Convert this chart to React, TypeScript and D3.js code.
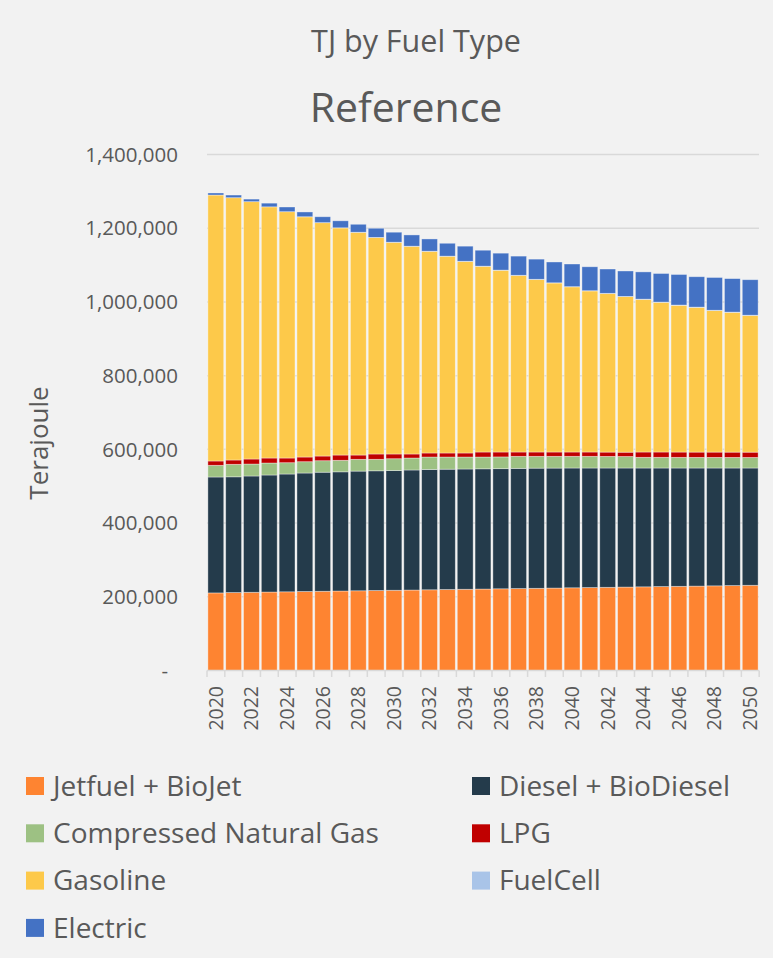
import React from 'react';
import * as d3 from 'd3';

const years = [2020, 2021, 2022, 2023, 2024, 2025, 2026, 2027, 2028, 2029, 2030, 2031, 2032, 2033, 2034, 2035, 2036, 2037, 2038, 2039, 2040, 2041, 2042, 2043, 2044, 2045, 2046, 2047, 2048, 2049, 2050];

// values in thousand TJ
const jetfuel = [210.5, 211.5, 212.2, 212.9, 213.5, 214.3, 215.0, 215.7, 216.3, 217.0, 217.7, 218.3, 219.0, 219.7, 220.4, 221.0, 221.7, 222.3, 223.0, 223.7, 224.4, 225.0, 225.7, 226.4, 227.0, 227.7, 228.4, 229.0, 229.7, 230.4, 231.2];
const diesel = [314.5, 314.0, 315.5, 317.5, 319.6, 321.5, 323.0, 323.3, 324.7, 324.8, 324.9, 325.7, 326.5, 326.5, 326.3, 326.2, 325.9, 326.1, 326.0, 325.5, 325.0, 324.4, 323.7, 323.0, 322.4, 321.7, 321.0, 320.4, 319.7, 319.0, 318.2];
const cng = [31.7, 33.9, 32.5, 32.6, 30.7, 30.7, 31.2, 31.3, 32.0, 31.2, 32.0, 32.5, 33.7, 33.0, 32.5, 32.0, 31.9, 32.7, 32.1, 31.9, 31.7, 31.7, 31.5, 31.2, 29.0, 29.0, 28.9, 28.8, 28.8, 28.7, 28.6];
const lpg = [11.7, 11.7, 13.6, 13.5, 12.7, 12.7, 12.7, 14.3, 11.6, 14.4, 12.8, 10.9, 10.9, 10.9, 10.9, 13.6, 13.3, 11.7, 11.7, 11.7, 11.7, 11.7, 11.7, 11.7, 14.4, 14.4, 14.4, 14.4, 14.4, 14.4, 14.4];
const gasoline = [721.6, 711.7, 698.2, 681.5, 668.3, 651.8, 633.1, 616.4, 604.4, 587.6, 574.4, 563.6, 547.3, 533.9, 519.9, 503.9, 493.2, 479.2, 468.2, 458.7, 448.2, 437.2, 430.2, 422.2, 414.2, 406.2, 398.2, 392.7, 384.2, 379.2, 370.9];
const fuelcell = [0.0, 0.0, 0.0, 0.0, 0.0, 0.1, 0.1, 0.1, 0.1, 0.1, 0.2, 0.2, 0.2, 0.2, 0.3, 0.3, 0.3, 0.3, 0.4, 0.4, 0.4, 0.4, 0.5, 0.5, 0.5, 0.5, 0.6, 0.6, 0.6, 0.6, 0.7];
const electric = [5.6, 7.2, 7.0, 10.0, 12.8, 13.0, 16.0, 19.0, 21.6, 24.8, 27.2, 30.6, 33.3, 35.0, 41.0, 43.3, 46.0, 52.0, 54.7, 56.5, 61.5, 65.0, 66.0, 69.0, 74.0, 77.7, 83.0, 82.5, 89.0, 91.0, 96.3];

const seriesNames = ['Jetfuel + BioJet', 'Diesel + BioDiesel', 'Compressed Natural Gas', 'LPG', 'Gasoline', 'FuelCell', 'Electric'];
const seriesKeys = ['jet', 'diesel', 'cng', 'lpg', 'gasoline', 'fuelcell', 'electric'];
const seriesColors = ['#FE8431', '#243B4B', '#9DC183', '#C00000', '#FDC94A', '#A9C4E8', '#4472C4'];

const yTicks = [0, 200000, 400000, 600000, 800000, 1000000, 1200000, 1400000];
const xTickLabels = [2020, 2022, 2024, 2026, 2028, 2030, 2032, 2034, 2036, 2038, 2040, 2042, 2044, 2046, 2048, 2050];

const legendOrder = [
  ['jet', 'diesel'],
  ['cng', 'lpg'],
  ['gasoline', 'fuelcell'],
  ['electric'],
];

const W = 773;
const H = 958;
const FONT = '"Open Sans", "Liberation Sans", sans-serif';
const TEXT = '#595959';

export default function App() {
  const rows = years.map((y, i) => ({
    year: y,
    jet: jetfuel[i] * 1000,
    diesel: diesel[i] * 1000,
    cng: cng[i] * 1000,
    lpg: lpg[i] * 1000,
    gasoline: gasoline[i] * 1000,
    fuelcell: fuelcell[i] * 1000,
    electric: electric[i] * 1000,
  }));

  const x = d3.scaleBand<number>().domain(years).range([207, 759]).paddingInner(0.11).paddingOuter(0.05);
  const y = d3.scaleLinear().domain([0, 1400000]).range([670.5, 154.5]);
  const stack = d3.stack<any>().keys(seriesKeys);
  const layers = stack(rows);
  const colorOf = (k: string) => seriesColors[seriesKeys.indexOf(k)];
  const nameOf = (k: string) => seriesNames[seriesKeys.indexOf(k)];
  const fmt = d3.format(',');
  const step = x.step();
  const x0 = 207;
  const x1 = 759;

  return (
    <svg width={W} height={H} style={{ position: 'absolute', left: 0, top: 0, background: '#f2f2f2' }} fontFamily={FONT}>
      <rect x={0} y={0} width={W} height={H} fill="#f2f2f2" />
      <text x={416} y={52} textAnchor="middle" fontSize={30.5} fill={TEXT}>TJ by Fuel Type</text>
      <text x={406} y={122} textAnchor="middle" fontSize={41} fill={TEXT}>Reference</text>

      {/* gridlines */}
      {yTicks.filter(t => t > 0).map(t => (
        <line key={t} x1={x0} x2={x1} y1={y(t)} y2={y(t)} stroke="#d9d9d9" strokeWidth={1.5} />
      ))}
      {/* y labels */}
      {yTicks.map(t => (
        <text key={t} x={t === 0 ? 168 : 178} y={y(t)} dy="0.35em" textAnchor="end" fontSize={20.5} fill={TEXT}>
          {t === 0 ? '-' : fmt(t)}
        </text>
      ))}
      <text transform={`translate(48,443) rotate(-90)`} textAnchor="middle" fontSize={26} fill={TEXT}>Terajoule</text>

      {/* bars */}
      {layers.map(layer => (
        <g key={layer.key} fill={colorOf(layer.key)}>
          {layer.map((d, i) => (
            <rect key={i} x={x(years[i])} width={x.bandwidth()} y={y(d[1])} height={Math.max(0, y(d[0]) - y(d[1]))}
              stroke="#ffffff" strokeOpacity={0.45} strokeWidth={0.8} />
          ))}
        </g>
      ))}

      {/* x axis */}
      <line x1={x0} x2={x1} y1={670.5} y2={670.5} stroke="#d9d9d9" strokeWidth={1.5} />
      {years.concat([years[years.length - 1] + 1]).map((yr, i) => (
        <line key={yr} x1={x0 + i * step} x2={x0 + i * step} y1={670.5} y2={677} stroke="#d9d9d9" strokeWidth={1.5} />
      ))}
      {xTickLabels.map(yr => (
        <text key={yr} transform={`translate(${(x(yr) as number) + x.bandwidth() / 2},686) rotate(-90)`} dy="0.35em" textAnchor="end" fontSize={19.5} fill={TEXT}>
          {yr}
        </text>
      ))}

      {/* legend */}
      {legendOrder.map((row, r) => row.map((k, c) => {
        const lx = c === 0 ? 26 : 472;
        const ly = 786 + r * 47.3;
        return (
          <g key={k}>
            <rect x={lx} y={ly - 9} width={18} height={18} fill={colorOf(k)} />
            <text x={lx + 27} y={ly} dy="0.35em" fontSize={28} fill={TEXT}>{nameOf(k)}</text>
          </g>
        );
      }))}
    </svg>
  );
}
